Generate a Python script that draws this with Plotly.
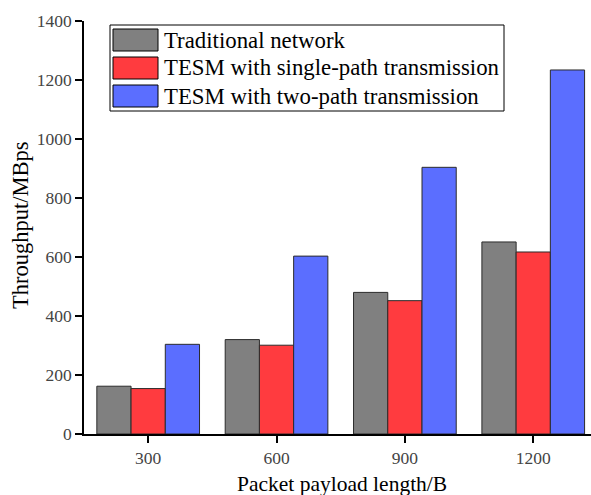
import plotly.graph_objects as go

# Packet payload lengths (B) and measured throughput (MBps)
payload_lengths = ["300", "600", "900", "1200"]
traditional = [162, 320, 480, 651]
tesm_single = [154, 301, 452, 617]
tesm_two = [304, 603, 904, 1234]

series_names = [
    "Traditional network",
    "TESM with single-path transmission",
    "TESM with two-path transmission",
]
series_values = [traditional, tesm_single, tesm_two]
series_colors = ["#808080", "#FF3B3F", "#5B6EFF"]

x_title = "Packet payload length/B"
y_title = "Throughput/MBps"

W, H = 591, 495
ML, MR, MT, MB = 84, 0, 21, 61
PW, PH = W - ML - MR, H - MT - MB

FONT = "Liberation Serif, Times New Roman, serif"

fig = go.Figure()
for name, vals, col in zip(series_names, series_values, series_colors):
    fig.add_trace(go.Bar(
        x=payload_lengths, y=vals, name=name,
        marker=dict(color=col, line=dict(color="#2b2b2b", width=1)),
        showlegend=False,
    ))


def px_x(p):
    return (p - ML) / PW


def px_y(p):
    return (H - MB - p) / PH


# Legend box with wide colour swatches
shapes = [dict(type="rect", xref="paper", yref="paper",
               x0=px_x(110), x1=px_x(504), y0=px_y(111), y1=px_y(25),
               line=dict(color="#000000", width=1), fillcolor="white", layer="above")]
annotations = []
for i, (name, col) in enumerate(zip(series_names, series_colors)):
    top = 29 + i * 28
    shapes.append(dict(type="rect", xref="paper", yref="paper",
                       x0=px_x(113), x1=px_x(158), y0=px_y(top + 22), y1=px_y(top),
                       line=dict(color="#000000", width=1), fillcolor=col, layer="above"))
    annotations.append(dict(xref="paper", yref="paper", x=px_x(162), y=px_y(top + 11),
                            text=name, showarrow=False, xanchor="left", yanchor="middle",
                            font=dict(family=FONT, size=22.8, color="#000000")))

# Axis titles
annotations.append(dict(xref="paper", yref="paper", x=px_x(342), y=px_y(484),
                        text=x_title, showarrow=False, xanchor="center", yanchor="middle",
                        font=dict(family=FONT, size=21.5, color="#000000")))
annotations.append(dict(xref="paper", yref="paper", x=px_x(20), y=px_y(225),
                        text=y_title, showarrow=False, xanchor="center", yanchor="middle",
                        textangle=-90,
                        font=dict(family=FONT, size=22.5, color="#000000")))

fig.update_layout(
    width=W, height=H,
    margin=dict(l=ML, r=MR, t=MT, b=MB, autoexpand=False),
    paper_bgcolor="white", plot_bgcolor="white",
    barmode="group", bargap=0.2, bargroupgap=0,
    shapes=shapes, annotations=annotations,
    font=dict(family=FONT),
)
fig.update_xaxes(
    range=[-0.5, 3.45], showline=True, linecolor="#000000", linewidth=1.5,
    ticks="outside", ticklen=7, tickwidth=1.5, tickcolor="#000000",
    tickfont=dict(family=FONT, size=17.5, color="#444444"),
    showgrid=False, zeroline=False, automargin=False,
)
fig.update_yaxes(
    range=[0, 1400], dtick=200, showline=True, linecolor="#000000", linewidth=1.5,
    ticks="outside", ticklen=7, tickwidth=1.5, tickcolor="#000000",
    tickfont=dict(family=FONT, size=17.5, color="#444444"),
    showgrid=False, zeroline=False, automargin=False,
)

fig.write_html("out.html")
